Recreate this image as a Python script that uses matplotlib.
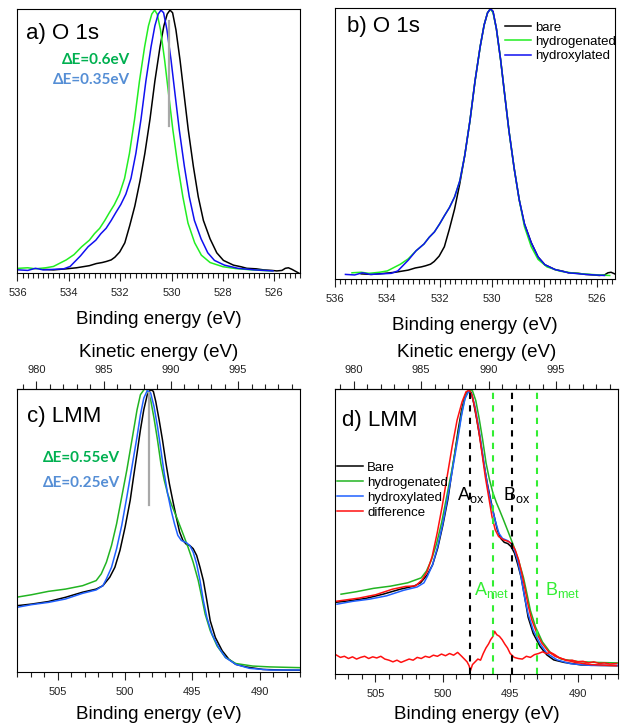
import numpy as np
import matplotlib.pyplot as plt
from matplotlib.ticker import MultipleLocator, FixedLocator

plt.rcParams['font.family'] = ['Liberation Sans', 'DejaVu Sans']
plt.rcParams['mathtext.fontset'] = 'custom'
plt.rcParams['mathtext.rm'] = 'Liberation Sans'
plt.rcParams['mathtext.it'] = 'Liberation Sans:italic'

HV = 1486.6  # Al K-alpha, kinetic = HV - binding
ke_ticks = [980, 985, 990, 995]

# ---- O 1s (binding energies as measured, panel a) ----
be_o_bare = [535.0, 534.6, 534.1, 533.7, 533.45, 533.2, 532.93, 532.7, 532.54, 532.35, 532.21,
             532.02, 531.82, 531.63, 531.43, 531.23, 531.04, 530.84, 530.65, 530.45, 530.30,
             530.17, 530.06, 529.96, 529.83, 529.67, 529.52, 529.35, 529.15, 528.96, 528.76,
             528.50, 528.24, 527.98, 527.59, 527.3, 527.07, 526.7, 526.42, 526.1, 525.90,
             525.7, 525.57, 525.45, 525.31, 525.05]
i_o_bare = [0.014, 0.012, 0.016, 0.02, 0.024, 0.028, 0.036, 0.04, 0.044, 0.05, 0.06,
            0.08, 0.115, 0.18, 0.255, 0.35, 0.455, 0.585, 0.73, 0.86, 0.94,
            0.985, 1.0, 0.99, 0.925, 0.81, 0.685, 0.545, 0.405, 0.29, 0.2,
            0.13, 0.077, 0.048, 0.03, 0.024, 0.018, 0.016, 0.012, 0.01, 0.008,
            0.01, 0.018, 0.02, 0.014, 0.0]

be_o_hyd = [535.95, 535.6, 535.3, 534.9, 534.6, 534.4, 534.1, 533.8, 533.5, 533.2, 533.0,
            532.8, 532.6, 532.42, 532.23, 532.03, 531.83, 531.64, 531.44, 531.25, 531.05,
            530.9, 530.77, 530.66, 530.56, 530.43, 530.27, 530.12, 529.95, 529.75, 529.56,
            529.36, 529.10, 528.84, 528.5, 528.0, 527.5, 527.0, 526.5, 526.1]
i_o_hyd = [0.018, 0.02, 0.016, 0.02, 0.025, 0.035, 0.05, 0.07, 0.10, 0.125, 0.15,
           0.17, 0.20, 0.23, 0.26, 0.30, 0.36, 0.455, 0.585, 0.73, 0.86,
           0.94, 0.985, 1.0, 0.985, 0.925, 0.81, 0.685, 0.545, 0.405, 0.29,
           0.19, 0.115, 0.068, 0.04, 0.024, 0.017, 0.013, 0.01, 0.008]

be_o_oh = [535.95, 535.6, 535.3, 535.0, 534.6, 534.2, 533.95, 533.8, 533.55, 533.25, 532.95,
           532.75, 532.55, 532.35, 532.17, 531.98, 531.78, 531.58, 531.39, 531.19, 531.0,
           530.8, 530.65, 530.52, 530.41, 530.31, 530.18, 530.02, 529.87, 529.70, 529.50,
           529.31, 529.11, 528.85, 528.59, 528.33, 527.94, 527.42, 526.77, 526.05]
i_o_oh = [0.012, 0.01, 0.018, 0.012, 0.014, 0.016, 0.025, 0.04, 0.065, 0.1, 0.125,
          0.15, 0.17, 0.2, 0.23, 0.26, 0.3, 0.36, 0.455, 0.585, 0.73,
          0.86, 0.94, 0.985, 1.0, 0.99, 0.925, 0.81, 0.685, 0.545, 0.405,
          0.29, 0.2, 0.13, 0.077, 0.048, 0.03, 0.018, 0.012, 0.008]

dE_o_hyd, dE_o_oh = 0.6, 0.35
be_o_ref = 530.1

# ---- LMM (binding energies as measured, panel c) ----
be_l_bare = [508.10, 506.96, 505.70, 504.43, 503.16, 502.15, 501.65, 501.14, 500.76, 500.38,
             500.00, 499.62, 499.37, 499.11, 498.86, 498.61, 498.35, 498.10, 497.90, 497.72,
             497.47, 497.22, 496.96, 496.71, 496.46, 496.20, 495.95, 495.70, 495.44, 495.19,
             494.94, 494.68, 494.43, 494.18, 493.92, 493.67, 493.29, 492.78, 492.28, 491.77,
             491.01, 489.75, 488.23, 486.71]
i_l_bare = [0.234, 0.240, 0.249, 0.264, 0.282, 0.293, 0.305, 0.335, 0.370, 0.430,
            0.512, 0.607, 0.690, 0.773, 0.856, 0.927, 0.980, 0.998, 0.992, 0.956,
            0.891, 0.820, 0.737, 0.666, 0.607, 0.548, 0.495, 0.465, 0.451, 0.447,
            0.436, 0.412, 0.370, 0.323, 0.252, 0.181, 0.122, 0.075, 0.045, 0.027,
            0.018, 0.009, 0.007, 0.006]

be_l_hyd = [508.10, 506.96, 505.70, 504.43, 503.16, 502.15, 501.77, 501.39, 501.01, 500.63,
            500.25, 499.87, 499.49, 499.11, 498.86, 498.56, 498.35, 498.10, 497.85, 497.59,
            497.34, 497.09, 496.84, 496.58, 496.33, 496.08, 495.70, 495.32, 494.94, 494.56,
            494.30, 494.05, 493.67, 493.16, 492.53, 491.77, 490.51, 489.24, 486.71]
i_l_hyd = [0.264, 0.273, 0.285, 0.293, 0.305, 0.323, 0.347, 0.388, 0.447, 0.524,
           0.619, 0.714, 0.820, 0.927, 0.980, 1.000, 0.998, 0.962, 0.897, 0.820,
           0.737, 0.678, 0.631, 0.595, 0.566, 0.536, 0.489, 0.441, 0.388, 0.323,
           0.264, 0.205, 0.146, 0.092, 0.051, 0.030, 0.021, 0.018, 0.015]

be_l_oh = [508.10, 506.96, 505.70, 504.43, 503.16, 502.15, 501.65, 501.39, 501.01, 500.63,
           500.25, 499.87, 499.49, 499.11, 498.86, 498.61, 498.35, 498.10, 497.85, 497.59,
           497.34, 497.09, 496.84, 496.58, 496.33, 496.08, 495.82, 495.44, 495.19, 494.94,
           494.68, 494.43, 494.18, 493.92, 493.54, 493.04, 492.53, 491.77, 490.76, 489.24,
           486.71]
i_l_oh = [0.228, 0.238, 0.246, 0.258, 0.278, 0.290, 0.305, 0.329, 0.370, 0.436,
          0.518, 0.619, 0.725, 0.832, 0.909, 0.968, 0.995, 0.986, 0.938, 0.867,
          0.785, 0.702, 0.631, 0.572, 0.524, 0.483, 0.465, 0.457, 0.447, 0.424,
          0.382, 0.323, 0.252, 0.193, 0.134, 0.086, 0.051, 0.027, 0.013, 0.007,
          0.007]

dE_l_hyd, dE_l_oh = 0.55, 0.25
be_l_ref = 498.2

# panel d: red trace over the bare spectrum, and difference spectrum
be_d_red = [507.98, 506.21, 504.98, 503.74, 502.76, 502.02, 501.53, 501.16, 500.79, 500.42,
            500.05, 499.68, 499.31, 498.94, 498.57, 498.28, 498.03, 497.83, 497.59, 497.34,
            497.09, 496.85, 496.60, 496.35, 496.11, 495.86, 495.49, 495.12, 494.88, 494.63,
            494.38, 494.14, 493.89, 493.65, 493.40, 493.03, 492.66, 492.17, 491.67, 490.94,
            490.20, 488.97, 487.12]
i_d_red = [0.238, 0.250, 0.262, 0.282, 0.292, 0.294, 0.316, 0.346, 0.400, 0.484,
           0.580, 0.688, 0.796, 0.892, 0.958, 0.994, 1.000, 0.982, 0.928, 0.856,
           0.772, 0.688, 0.616, 0.544, 0.496, 0.472, 0.460, 0.454, 0.445, 0.424,
           0.388, 0.340, 0.280, 0.220, 0.172, 0.124, 0.088, 0.058, 0.040, 0.028,
           0.018, 0.010, 0.006]

be_diff = [507.95, 507.6, 507.3, 507.0, 506.7, 506.4, 506.1, 505.8, 505.5, 505.2, 504.9,
           504.6, 504.3, 504.0, 503.7, 503.4, 503.1, 502.8, 502.5, 502.2, 501.9, 501.6,
           501.3, 501.0, 500.7, 500.4, 500.1, 499.8, 499.5, 499.2, 498.9, 498.6, 498.4,
           498.2, 498.05, 497.95, 497.8, 497.6, 497.4, 497.2, 497.0, 496.8, 496.6, 496.45,
           496.3, 496.15, 496.0, 495.8, 495.6, 495.4, 495.2, 495.0, 494.7, 494.4, 494.1,
           493.8, 493.5, 493.2, 492.9, 492.6, 492.3, 492.0, 491.7, 491.4, 491.1, 490.8,
           490.4, 490.0, 489.6, 489.2, 488.8, 488.4, 488.0, 487.6, 487.1]
i_diff = [0.046, 0.036, 0.04, 0.032, 0.038, 0.03, 0.036, 0.04, 0.032, 0.038, 0.034,
          0.04, 0.03, 0.026, 0.02, 0.026, 0.018, 0.024, 0.03, 0.026, 0.036, 0.032,
          0.04, 0.036, 0.044, 0.04, 0.048, 0.042, 0.05, 0.044, 0.054, 0.04, 0.03,
          0.02, 0.006, -0.012, 0.01, 0.02, 0.03, 0.026, 0.05, 0.07, 0.085, 0.1,
          0.11, 0.13, 0.118, 0.112, 0.1, 0.084, 0.07, 0.05, 0.036, 0.032, 0.03,
          0.04, 0.036, 0.046, 0.05, 0.056, 0.05, 0.054, 0.046, 0.036, 0.03, 0.024,
          0.026, 0.02, 0.022, 0.016, 0.02, 0.014, 0.016, 0.012, 0.014]

lines_ox = [498.0, 494.9]
lines_met = [496.3, 493.0]

GREEN_T, BLUE_T = '#00B050', '#558ED5'
DE_FONT = ['Lato', 'Open Sans', 'DejaVu Sans']


def style_axis(ax, major, minor, labelpad=6):
    ax.set_yticks([])
    ax.xaxis.set_major_locator(MultipleLocator(major))
    ax.xaxis.set_minor_locator(MultipleLocator(minor))
    ax.tick_params(axis='x', which='major', direction='out', length=6, width=0.8,
                   labelsize=8, pad=5, colors='#222222')
    ax.tick_params(axis='x', which='minor', direction='out', length=3.5, width=0.8,
                   colors='#222222')
    for s in ax.spines.values():
        s.set_linewidth(0.8)
    ax.set_xlabel('Binding energy (eV)', fontsize=13.5, labelpad=labelpad)


def add_kinetic(ax):
    f = lambda x: HV - x
    sec = ax.secondary_xaxis('top', functions=(f, f))
    sec.xaxis.set_major_locator(FixedLocator(ke_ticks))
    sec.xaxis.set_minor_locator(FixedLocator(np.arange(979, 1000)))
    sec.tick_params(which='major', direction='out', length=6, width=0.8, labelsize=8,
                    pad=4, colors='#222222')
    sec.tick_params(which='minor', direction='out', length=3.5, width=0.8, colors='#222222')
    sec.set_xlabel('Kinetic energy (eV)', fontsize=13.5, labelpad=6)
    return sec


fig = plt.figure(figsize=(6.2, 7.25), dpi=100)
ax_a = fig.add_axes([0.0282, 0.6234, 0.4556, 0.3641])
ax_b = fig.add_axes([0.5403, 0.6152, 0.4516, 0.3738])
ax_c = fig.add_axes([0.0282, 0.0731, 0.4556, 0.3903])
ax_d = fig.add_axes([0.5403, 0.0703, 0.4565, 0.3931])

lw = 1.1

# a) O 1s as measured
ax_a.plot(be_o_bare, i_o_bare, color='black', lw=lw)
ax_a.plot(be_o_hyd, i_o_hyd, color='#22EE22', lw=lw)
ax_a.plot(be_o_oh, i_o_oh, color='#1010F0', lw=lw)
ax_a.plot([be_o_ref, be_o_ref], [0.56, 0.96], color='#A8A8A8', lw=1.6)
ax_a.set_xlim(536, 525)
ax_a.set_ylim(0, 1.004)
style_axis(ax_a, 2, 0.2, labelpad=9)
ax_a.text(0.03, 0.909, 'a) O 1s', transform=ax_a.transAxes, fontsize=16, va='center')
ax_a.text(0.398, 0.807, 'ΔE=%.1feV' % dE_o_hyd, transform=ax_a.transAxes, ha='right',
          va='center', color=GREEN_T, fontsize=11, fontweight='bold', family=DE_FONT)
ax_a.text(0.398, 0.731, 'ΔE=%.2feV' % dE_o_oh, transform=ax_a.transAxes, ha='right',
          va='center', color=BLUE_T, fontsize=11, fontweight='bold', family=DE_FONT)

# b) O 1s aligned
ax_b.plot(be_o_bare, i_o_bare, color='black', lw=lw, label='bare')
ax_b.plot(np.array(be_o_hyd) - dE_o_hyd, i_o_hyd, color='#22EE22', lw=lw, label='hydrogenated')
ax_b.plot(np.array(be_o_oh) - dE_o_oh, i_o_oh, color='#1010F0', lw=lw, label='hydroxylated')
ax_b.set_xlim(536, 525.3)
ax_b.set_ylim(-0.005, 1.003)
style_axis(ax_b, 2, 0.2, labelpad=9)
ax_b.text(0.042, 0.931, 'b) O 1s', transform=ax_b.transAxes, fontsize=16, va='center')
ax_b.legend(loc='upper left', bbox_to_anchor=(0.607, 0.95), frameon=False, fontsize=9.5,
            handlelength=2.0, handletextpad=0.3, labelspacing=0.15, borderpad=0,
            borderaxespad=0)

# c) LMM as measured
ax_c.plot(be_l_bare, i_l_bare, color='black', lw=lw)
ax_c.plot(be_l_hyd, i_l_hyd, color='#22B422', lw=lw)
ax_c.plot(be_l_oh, i_l_oh, color='#2060FF', lw=lw)
ax_c.plot([be_l_ref, be_l_ref], [0.59, 0.985], color='#A8A8A8', lw=1.6)
ax_c.set_xlim(508, 487)
ax_c.set_ylim(0, 1.0)
style_axis(ax_c, 5, 1)
add_kinetic(ax_c)
ax_c.text(0.033, 0.902, 'c) LMM', transform=ax_c.transAxes, fontsize=16, va='center')
ax_c.text(0.363, 0.755, 'ΔE=%.2feV' % dE_l_hyd, transform=ax_c.transAxes, ha='right',
          va='center', color=GREEN_T, fontsize=11, fontweight='bold', family=DE_FONT)
ax_c.text(0.363, 0.667, 'ΔE=%.2feV' % dE_l_oh, transform=ax_c.transAxes, ha='right',
          va='center', color=BLUE_T, fontsize=11, fontweight='bold', family=DE_FONT)

# d) LMM aligned + difference
ax_d.plot(be_l_bare, i_l_bare, color='black', lw=lw, label='Bare')
ax_d.plot(np.array(be_l_hyd) - dE_l_hyd, i_l_hyd, color='#22B422', lw=lw, label='hydrogenated')
ax_d.plot(np.array(be_l_oh) - dE_l_oh, i_l_oh, color='#2060FF', lw=lw, label='hydroxylated')
ax_d.plot(be_d_red, i_d_red, color='#FF1010', lw=lw, label='difference')
ax_d.plot(be_diff, i_diff, color='#FF1010', lw=lw)
for x in lines_ox:
    ax_d.axvline(x, color='black', lw=1.5, ls=(0, (3, 3)))
for x in lines_met:
    ax_d.axvline(x, color='#33EE33', lw=1.5, ls=(0, (3, 3)))
ax_d.set_xlim(508, 487)
ax_d.set_ylim(-0.024, 1.004)
style_axis(ax_d, 5, 1, labelpad=5)
add_kinetic(ax_d)
ax_d.text(0.024, 0.891, 'd) LMM', transform=ax_d.transAxes, fontsize=16, va='center')
tr = ax_d.get_xaxis_transform()
ax_d.text(497.9, 0.628, r'A$_{\rm ox}$', transform=tr, ha='center', va='center', fontsize=13)
ax_d.text(494.5, 0.628, r'B$_{\rm ox}$', transform=tr, ha='center', va='center', fontsize=13)
ax_d.text(496.4, 0.295, r'A$_{\rm met}$', transform=tr, ha='center', va='center',
          fontsize=13, color='#33EE33')
ax_d.text(491.1, 0.295, r'B$_{\rm met}$', transform=tr, ha='center', va='center',
          fontsize=13, color='#33EE33')
ax_d.legend(loc='upper left', bbox_to_anchor=(0.007, 0.745), frameon=False, fontsize=9.5,
            handlelength=2.0, handletextpad=0.3, labelspacing=0.2, borderpad=0,
            borderaxespad=0)

fig.savefig('out.png', dpi=100)
